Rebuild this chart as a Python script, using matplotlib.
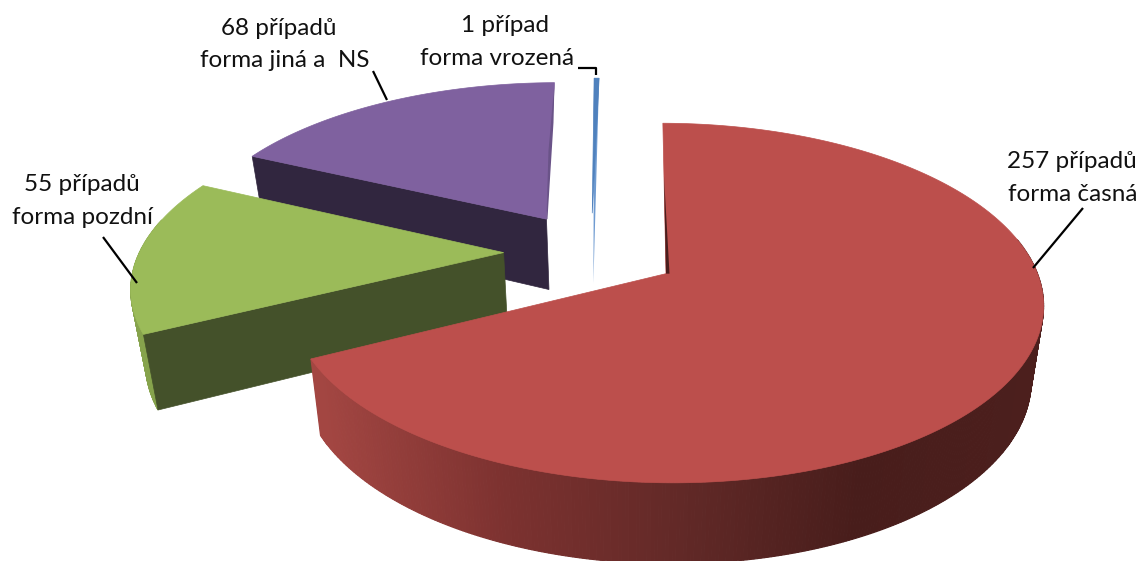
import numpy as np
import matplotlib
matplotlib.use("Agg")
import matplotlib.pyplot as plt
from matplotlib.patches import Polygon

# data
values = [1, 257, 55, 68]
label_top = ["1 případ", "257 případů", "55 případů", "68 případů"]
label_bottom = ["forma vrozená", "forma časná", "forma pozdní", "forma jiná a  NS"]
top_colors = ["#4F81BD", "#BC4F4C", "#9BBB59", "#7F619F"]
cut_colors = ["#6F9BD1", "#4A1E1D", "#44512A", "#31263F"]
rim_colors = ["#4F81BD", None, "#86A34C", "#6A5388"]

# view parameters (pixels)
W, H = 1144, 561
VX, CY, A, B, P = 630.0, 252.0, 364.0, 168.0, 0.16
U = -39.0
EXPLODE, START = 0.24, -0.6
SHRINK = 0.97

def project(X, Y):
    s = 1.0 / (1.0 - P * Y)
    return VX + (U + A * X) * s, CY + B * Y * s

def drop(x, y, Y):
    return VX + (x - VX) * SHRINK, y + 72 + 8 * Y

def red_shade(x):
    return np.array([np.interp(x, [320, 500, 700, 860, 1040], c) for c in
                     ([163, 125, 95, 72, 76], [70, 50, 40, 29, 31], [66, 48, 38, 27, 29])]) / 255

fig = plt.figure(figsize=(W / 100, H / 100), dpi=100)
ax = fig.add_axes([0, 0, 1, 1])
ax.set_xlim(0, W)
ax.set_ylim(H, 0)
ax.axis("off")

fracs = np.array(values, dtype=float) / sum(values)
edges = START + np.concatenate([[0], np.cumsum(fracs)]) * 360
slices = []
for i in range(len(values)):
    t0, t1 = np.radians(edges[i]), np.radians(edges[i + 1])
    mid = (t0 + t1) / 2
    ox, oy = EXPLODE * np.sin(mid), -EXPLODE * np.cos(mid)
    th = np.linspace(t0, t1, max(4, int((t1 - t0) * 120)))
    rx, ry = ox + np.sin(th), oy - np.cos(th)
    slices.append(dict(ox=ox, oy=oy, rx=rx, ry=ry))

def face(s):
    ax_, ay_ = project(s["ox"], s["oy"])
    px, py = project(s["rx"], s["ry"])
    return ax_, ay_, px, py

# back to front: blue, purple, green, red
for rank, i in enumerate([0, 3, 2, 1]):
    z = (rank + 1) * 10
    s = slices[i]
    ax_, ay_, px, py = face(s)
    bx, by = drop(px, py, s["ry"])
    abx, aby = drop(ax_, ay_, s["oy"])
    # outer rim: only the part that faces the viewer
    for j in range(len(px) - 1):
        if s["ry"][j] - s["oy"] < -0.2 and s["ry"][j + 1] - s["oy"] < -0.2:
            continue
        q = [(px[j], py[j]), (px[j + 1], py[j + 1]), (bx[j + 1], by[j + 1]), (bx[j], by[j])]
        c = red_shade((px[j] + px[j + 1]) / 2) if i == 1 else rim_colors[i]
        ax.add_patch(Polygon(q, closed=True, fc=c, ec=c, lw=0.8, zorder=z))
    # cut face that looks towards the viewer
    if i in (2, 3):
        q = [(ax_, ay_), (px[0], py[0]), (bx[0], by[0]), (abx, aby)]
        ax.add_patch(Polygon(q, closed=True, fc=cut_colors[i], ec=cut_colors[i], lw=0.5, zorder=z + 1))
    if i == 0:
        q = [(px[0], py[0]), (px[-1], py[-1]), (abx, aby)]
        ax.add_patch(Polygon(q, closed=True, fc=cut_colors[0], ec="none", zorder=z))
    # top
    q = [(ax_, ay_)] + list(zip(px, py))
    ax.add_patch(Polygon(q, closed=True, fc=top_colors[i], ec=top_colors[i], lw=0.5, zorder=z + 2))

# thin slivers along radial edges
s = slices[1]
ax_, ay_, px, py = face(s)
f = 0.65
ax.add_patch(Polygon([(ax_ + (px[0] - ax_) * f, ay_ + (py[0] - ay_) * f), (ax_, ay_), (ax_ + 3.5, ay_)],
                     closed=True, fc=cut_colors[1], ec="none", zorder=43))
s = slices[3]
ax_, ay_, px, py = face(s)
ax.add_patch(Polygon([(px[-1], py[-1]), (px[-1] - 1, py[-1] + 40), (ax_ + 1, ay_), (ax_, ay_),
                      (ax_ + (px[-1] - ax_) * 0.5 - 2, ay_ + (py[-1] - ay_) * 0.5)],
                     closed=True, fc=rim_colors[3], ec="none", zorder=23))

# labels
lab_x = [[505, 497], [1072, 1073], [82, 82], [279, 285]]
lab_y = [[25, 58], [161, 194], [184, 217], [28, 60]]
for i in range(4):
    for txt, x, y in zip((label_top[i], label_bottom[i]), lab_x[i], lab_y[i]):
        ax.text(x, y, txt, ha="center", va="center", fontsize=17.5, family=["Lato", "DejaVu Sans"],
                color="#111111", zorder=60)

leaders = [([578, 596, 596], [68, 68, 75]), ([1083, 1033], [208, 268]),
           ([103, 137], [237, 283]), ([373, 387], [71, 100])]
for lx, ly in leaders:
    ax.plot(lx, ly, color="black", lw=1.6, zorder=59, solid_capstyle="butt")

fig.savefig("out.png", dpi=100, facecolor="white")
